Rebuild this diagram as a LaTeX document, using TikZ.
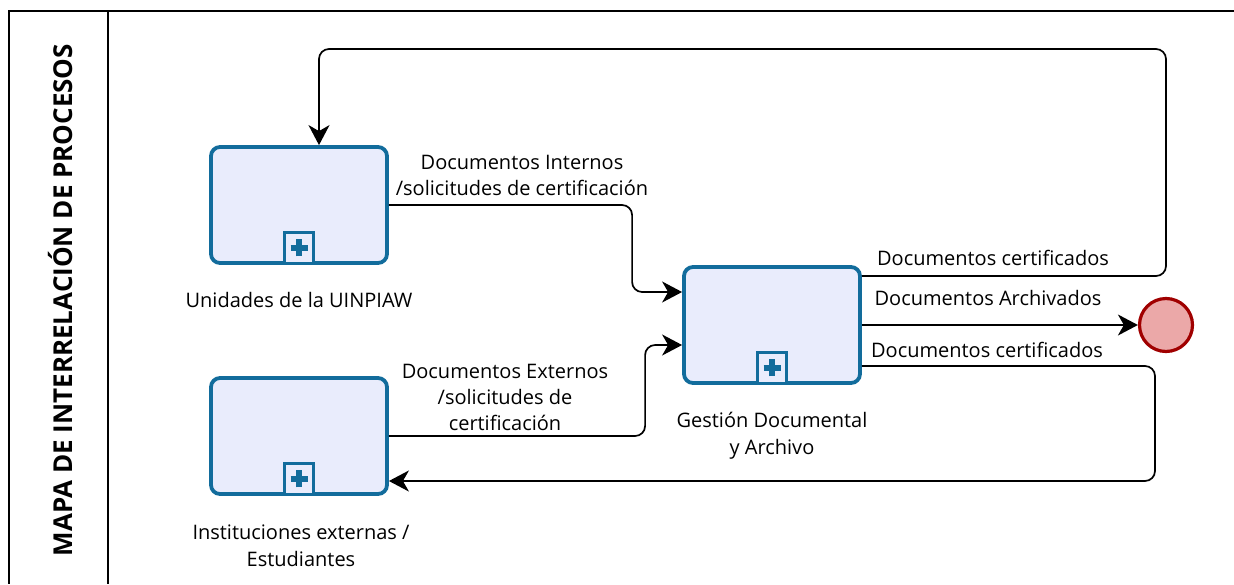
\documentclass[tikz,border=0pt]{standalone}
\usepackage{fontspec}
\setmainfont{Open Sans}
\usetikzlibrary{arrows.meta}
\definecolor{boxblue}{RGB}{18,108,156}
\definecolor{boxfill}{RGB}{233,236,252}
\definecolor{endfill}{RGB}{235,168,168}
\definecolor{endline}{RGB}{160,0,0}
\begin{document}
\begin{tikzpicture}[x=1pt,y=-1pt,
  process/.style={draw=boxblue, line width=3.8pt, fill=boxfill, rounded corners=9pt,
    minimum width=176pt, minimum height=116pt, inner sep=0pt},
  marker/.style={draw=boxblue, line width=3.2pt, fill=boxfill, minimum width=29pt,
    minimum height=31pt, inner sep=0pt, anchor=south},
  flow/.style={draw=black, line width=1.7pt, rounded corners=10pt,
    -{Stealth[length=20pt,width=21pt,inset=6pt]}},
  lbl/.style={font=\fontsize{20}{26}\selectfont, align=center, inner sep=0pt},
  frame/.style={draw=black, line width=1.5pt}
]
\useasboundingbox (0,0) rectangle (1234,584);
% frame
\draw[frame] (1234,11) -- (9,11) -- (9,584);
\draw[frame] (108,11) -- (108,584);
\node[rotate=90, inner sep=0pt, font=\bfseries\fontsize{26}{30}\selectfont] (title) at (61,300) {MAPA DE INTERRELACIÓN DE PROCESOS};

% processes
\node[process] (A) at (299,205) {};
\node[process] (B) at (772,325) {};
\node[process] (C) at (299,436) {};
\foreach \n in {A,B,C}{
  \node[marker] (m\n) at (\n.south) {};
  \draw[boxblue, line width=5.5pt] ([xshift=-8.5pt]m\n.center) -- ([xshift=8.5pt]m\n.center);
  \draw[boxblue, line width=5.5pt] ([yshift=-8.5pt]m\n.center) -- ([yshift=8.5pt]m\n.center);
}
\node[circle, draw=endline, line width=3.2pt, fill=endfill, minimum size=53pt, inner sep=0pt] (E) at (1166,325) {};

% process labels
\node[lbl] (lA) at (299,300) {Unidades de la UINPIAW};
\node[lbl, font=\fontsize{20}{27}\selectfont] (lB) at (772,435.5) {Gestión Documental\\y Archivo};
\node[lbl, font=\fontsize{20}{27}\selectfont] (lC) at (301,545.5) {Instituciones externas /\\Estudiantes};

% connectors
\coordinate (top) at (1166,49);
\coordinate (bot) at (1155,481);
\draw[flow] (A.east) -| ([xshift=-50pt,yshift=33pt]B.west) -- ([yshift=33pt]B.west);
\draw[flow] (C.east) -| ([xshift=-37pt,yshift=-20pt]B.west) -- ([yshift=-20pt]B.west);
\draw[flow] ([yshift=49pt]B.east) -| (top) -| ([xshift=20pt]A.north);
\draw[flow] (B.east) -- (E.west);
\draw[flow] ([yshift=-41pt]B.east) -| (bot) -- ([yshift=-45pt]C.east);

% connector labels
\node[lbl] (t1) at (522,175) {Documentos Internos\\/solicitudes de certificación};
\node[lbl] (t2) at (505,397) {Documentos Externos\\/solicitudes de\\certificación};
\node[lbl] (t3) at (993,258) {Documentos certificados};
\node[lbl] (t4) at (988,298) {Documentos Archivados};
\node[lbl] (t5) at (987,350) {Documentos certificados};
\end{tikzpicture}
\end{document}
